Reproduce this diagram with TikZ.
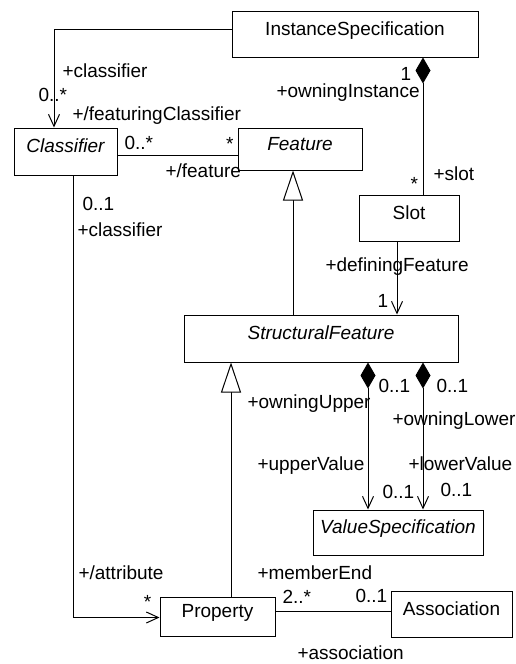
\documentclass[tikz,border=0pt]{standalone}
\usepackage{fontspec}
\setmainfont{Liberation Sans}
\usetikzlibrary{arrows.meta}
\begin{document}
\begin{tikzpicture}[x=1pt,y=-1pt,
  font=\fontsize{19}{22}\selectfont,
  line width=1pt,
  umlbox/.style={draw, inner sep=0pt, text height=9pt, text depth=7pt},
  lbl/.style={anchor=base west, inner sep=0pt},
  assoc/.style={-{Straight Barb[length=12pt,width=11pt]}},
  compo/.style={{Diamond[length=26pt,width=15pt]}-{Straight Barb[length=12pt,width=11pt]}},
  compoplain/.style={{Diamond[length=26pt,width=15pt]}-},
  gen/.style={-{Triangle[open,length=30pt,width=20pt,fill=white]}}]
\useasboundingbox (0,0) rectangle (515,664);

% classes
\node[umlbox, minimum width=246pt, minimum height=46pt] (IS) at (355,34) {InstanceSpecification};
\node[umlbox, minimum width=103pt, minimum height=47pt] (Cl) at (65.5,151.5) {\itshape Classifier};
\node[umlbox, minimum width=124pt, minimum height=42pt] (Fe) at (300,149) {\itshape Feature};
\node[umlbox, minimum width=100pt, minimum height=46pt] (Sl) at (409,218) {Slot};
\node[umlbox, minimum width=274pt, minimum height=47pt] (SF) at (321,338.5) {\itshape StructuralFeature};
\node[umlbox, minimum width=170pt, minimum height=45pt] (VS) at (398,532.5) {\itshape ValueSpecification};
\node[umlbox, minimum width=115pt, minimum height=39pt] (Pr) at (217.5,616.5) {Property};
\node[umlbox, minimum width=121pt, minimum height=46pt] (As) at (451.5,614) {Association};

% helper x positions
\coordinate (xa) at (54,0);
\coordinate (xb) at (423,0);
\coordinate (xc) at (397,0);
\coordinate (xd) at (293,0);
\coordinate (xe) at (73,0);
\coordinate (xf) at (231,0);
\coordinate (xg) at (368,0);

% connectors
\draw[assoc] ([yshift=5pt]IS.west) -| (Cl.north -| xa);
\draw ([yshift=-3.5pt]Cl.east) -- ([yshift=-3.5pt]Cl.east -| Fe.west);
\draw[compoplain] (IS.south -| xb) -- (Sl.north -| xb);
\draw[assoc] (Sl.south -| xc) -- (SF.north -| xc);
\draw[gen] (SF.north -| xd) -- (Fe.south -| xd);
\draw[assoc] (Cl.south -| xe) |- ([yshift=-1pt]Pr.west);
\draw[gen] (Pr.north -| xf) -- (SF.south -| xf);
\draw[compo] (SF.south -| xg) -- (VS.north -| xg);
\draw[compo] (SF.south -| xb) -- (VS.north -| xb);
\draw ([yshift=5.5pt]Pr.east) -- ([yshift=5.5pt]Pr.east -| As.west);

% labels
\node[lbl] (l1) at (62,77.7) {+classifier};
\node[lbl] (l2) at (38,101) {0..*};
\node[lbl] (l3) at (72,120.7) {+/featuringClassifier};
\node[lbl] (l4) at (124,149) {0..*};
\node[lbl] (l5) at (225.7,150.6) {*};
\node[lbl] (l6) at (165,177) {+/feature};
\node[lbl] (l7) at (400,80) {1};
\node[lbl] (l8) at (276,97) {+owningInstance};
\node[lbl] (l9) at (410,190.6) {*};
\node[lbl] (l10) at (433,180) {+slot};
\node[lbl] (l11) at (325,271.7) {+definingFeature};
\node[lbl] (l12) at (377,307.7) {1};
\node[lbl] (l13) at (82,210) {0..1};
\node[lbl] (l14) at (77,236) {+classifier};
\node[lbl] (l15) at (378,392.7) {0..1};
\node[lbl] (l16) at (436,392.7) {0..1};
\node[lbl] (l17) at (247,408) {+owningUpper};
\node[lbl] (l18) at (392,425) {+owningLower};
\node[lbl] (l19) at (257,470) {+upperValue};
\node[lbl] (l20) at (408,470) {+lowerValue};
\node[lbl] (l21) at (382,498) {0..1};
\node[lbl] (l22) at (440,496) {0..1};
\node[lbl] (l23) at (78,579) {+/attribute};
\node[lbl] (l24) at (143.3,608) {*};
\node[lbl] (l25) at (257,579) {+memberEnd};
\node[lbl] (l26) at (282,603) {2..*};
\node[lbl] (l27) at (355,602.7) {0..1};
\node[lbl] (l28) at (297,659.5) {+association};
\end{tikzpicture}
\end{document}
